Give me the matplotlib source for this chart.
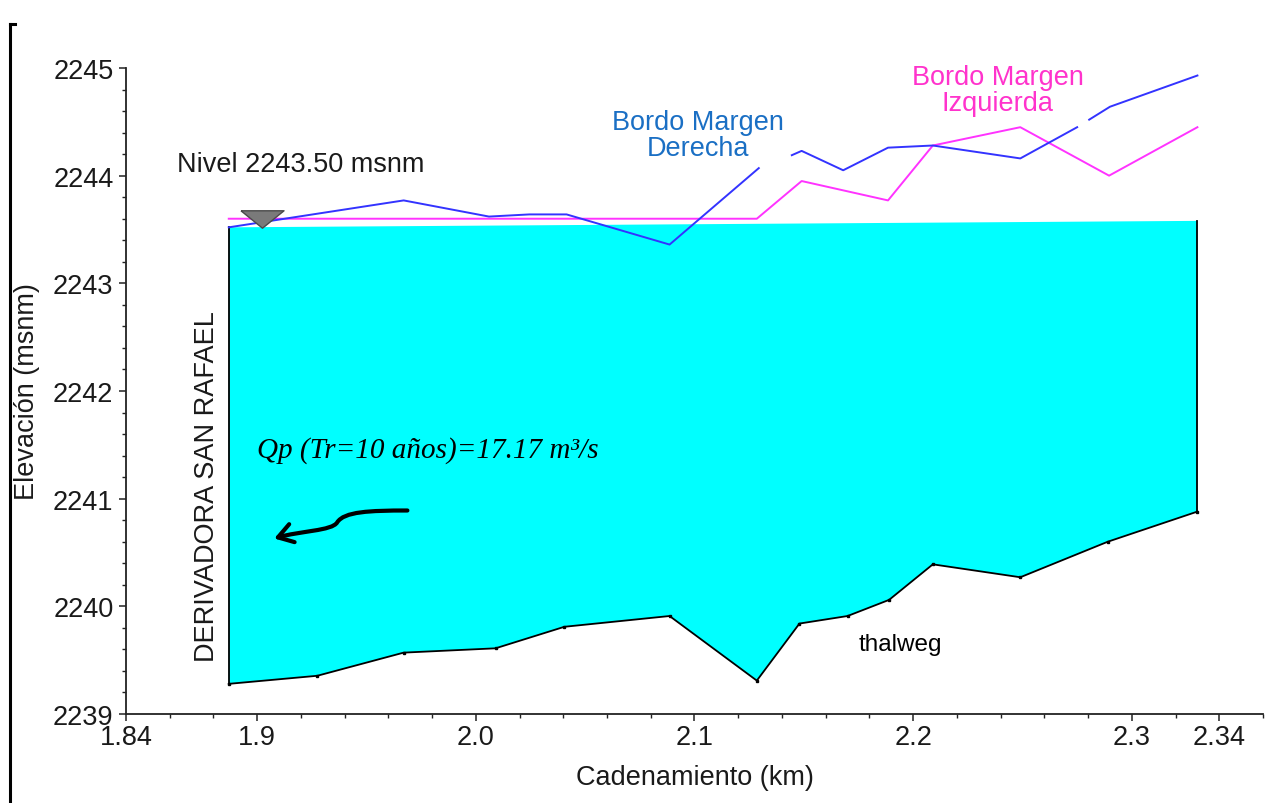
import numpy as np
import matplotlib
matplotlib.use("Agg")
import matplotlib.pyplot as plt
from matplotlib.path import Path
from matplotlib.patches import FancyArrowPatch
from matplotlib.lines import Line2D

plt.rcParams['font.family'] = ['Liberation Sans', 'DejaVu Sans']

# thalweg (fondo del cauce)
thal_x = [1.887, 1.9275, 1.967, 2.009, 2.0405, 2.0886, 2.1285, 2.148, 2.170,
          2.189, 2.209, 2.249, 2.289, 2.330]
thal_y = [2239.28, 2239.355, 2239.57, 2239.61, 2239.81, 2239.91, 2239.31,
          2239.84, 2239.91, 2240.06, 2240.39, 2240.27, 2240.60, 2240.88]

# superficie del agua
agua_x = [1.887, 2.330]
agua_y = [2243.52, 2243.58]

# bordo margen derecha (con huecos)
der_x = [1.887, 1.967, 2.006, 2.0245, 2.0415, 2.0886, 2.1294, np.nan, 2.1445,
         2.149, 2.168, 2.1885, 2.209, 2.249, 2.275, np.nan, 2.2805, 2.290, 2.330]
der_y = [2243.52, 2243.77, 2243.62, 2243.64, 2243.64, 2243.36, 2244.07, np.nan,
         2244.19, 2244.23, 2244.05, 2244.26, 2244.28, 2244.16, 2244.45, np.nan,
         2244.52, 2244.64, 2244.93]

# bordo margen izquierda
izq_x = [1.887, 2.1285, 2.149, 2.1885, 2.209, 2.249, 2.2896, 2.330]
izq_y = [2243.60, 2243.60, 2243.95, 2243.77, 2244.28, 2244.45, 2244.00, 2244.45]

nivel_x, nivel_y = 1.902, 2243.60

xticks = [1.84, 1.9, 2.0, 2.1, 2.2, 2.3, 2.34]
xtick_labels = ['1.84', '1.9', '2.0', '2.1', '2.2', '2.3', '2.34']
yticks = [2239, 2240, 2241, 2242, 2243, 2244, 2245]

# flecha del flujo (curva)
flecha = [(1.9687, 2240.89), (1.9513, 2240.89), (1.9398, 2240.88),
          (1.9366, 2240.78), (1.9343, 2240.70), (1.9192, 2240.70),
          (1.9078, 2240.63)]

fig = plt.figure(figsize=(12.7, 8.04), dpi=100)
ax = fig.add_axes([0.0992, 0.1107, 0.8953, 0.8035])

# agua
poly_x = agua_x + thal_x[::-1]
poly_y = agua_y + thal_y[::-1]
ax.fill(poly_x, poly_y, color='#00ffff', lw=0, zorder=1)

ax.plot(thal_x, thal_y, color='k', lw=1.3, marker='s', ms=2, zorder=3)
ax.plot([thal_x[0], thal_x[0]], [thal_y[0], agua_y[0]], color='k', lw=1.3, zorder=3)
ax.plot([thal_x[-1], thal_x[-1]], [thal_y[-1], agua_y[-1]], color='k', lw=1.3, zorder=3)

ax.plot(izq_x, izq_y, color='#ff33ff', lw=1.4, zorder=4)
ax.plot(der_x, der_y, color='#3333ff', lw=1.4, zorder=4)

tri = [(-21, 8.5), (21, 8.5), (0, -8.5), (-21, 8.5)]
ax.plot([nivel_x], [nivel_y], marker=tri, ms=31, color='#7a7a7a',
        mec='#4a4a4a', mew=1, zorder=5)

ax.text(1.8634, 2244.11, 'Nivel 2243.50 msnm', fontsize=19.5, va='center',
        ha='left', color='#1a1a1a')
ax.text(2.1014, 2244.38, 'Bordo Margen\nDerecha', fontsize=19.5, ha='center',
        va='center', color='#1a6fc4', linespacing=1.0)
ax.text(2.2388, 2244.80, 'Bordo Margen\nIzquierda', fontsize=19.5, ha='center',
        va='center', color='#ff33cc', linespacing=1.0)
ax.text(2.194, 2239.65, 'thalweg', fontsize=17.5, ha='center', va='center',
        color='k')
ax.text(1.877, 2241.12, 'DERIVADORA SAN RAFAEL', fontsize=19.5, rotation=90,
        ha='center', va='center', color='#1a1a1a')
ax.text(1.900, 2241.46, 'Qp (Tr=10 años)=17.17 m³/s', fontsize=21,
        family='Liberation Serif', style='italic', ha='left', va='center',
        color='k')

codes = [Path.MOVETO] + [Path.CURVE4] * 6
arr = FancyArrowPatch(path=Path(flecha, codes),
                      arrowstyle='->,head_length=0.7,head_width=0.45',
                      mutation_scale=15, lw=3, color='k', zorder=6)
ax.add_patch(arr)

ax.set_xlim(1.84, 2.36)
ax.set_ylim(2239, 2245)
ax.set_xticks(xticks)
ax.set_xticklabels(xtick_labels)
ax.set_xticks(np.arange(1.84, 2.3601, 0.02), minor=True)
ax.set_yticks(yticks)
ax.set_yticks(np.arange(2239, 2245.01, 0.2), minor=True)

for s in ['top', 'right']:
    ax.spines[s].set_visible(False)
for s in ['left', 'bottom']:
    ax.spines[s].set_linewidth(1.3)
    ax.spines[s].set_color('#222222')

ax.tick_params(axis='both', which='major', labelsize=19.5, direction='out',
               length=5, width=1.1, colors='#222222', labelcolor='#1a1a1a')
ax.tick_params(axis='both', which='minor', direction='out', length=3,
               width=1.0, colors='#222222')
ax.tick_params(axis='y', pad=4)
ax.tick_params(axis='x', pad=2)

ax.set_xlabel('Cadenamiento (km)', fontsize=19.5, color='#1a1a1a', labelpad=10)
ax.set_ylabel('Elevación (msnm)', fontsize=19.5, color='#1a1a1a', labelpad=9)

# marco a la izquierda
fig.add_artist(Line2D([0.0079, 0.0079], [0.0, 0.969], color='k', lw=2.2))
fig.add_artist(Line2D([0.0079, 0.0118], [0.969, 0.969], color='k', lw=2.2))

fig.savefig('out.png', dpi=100)
